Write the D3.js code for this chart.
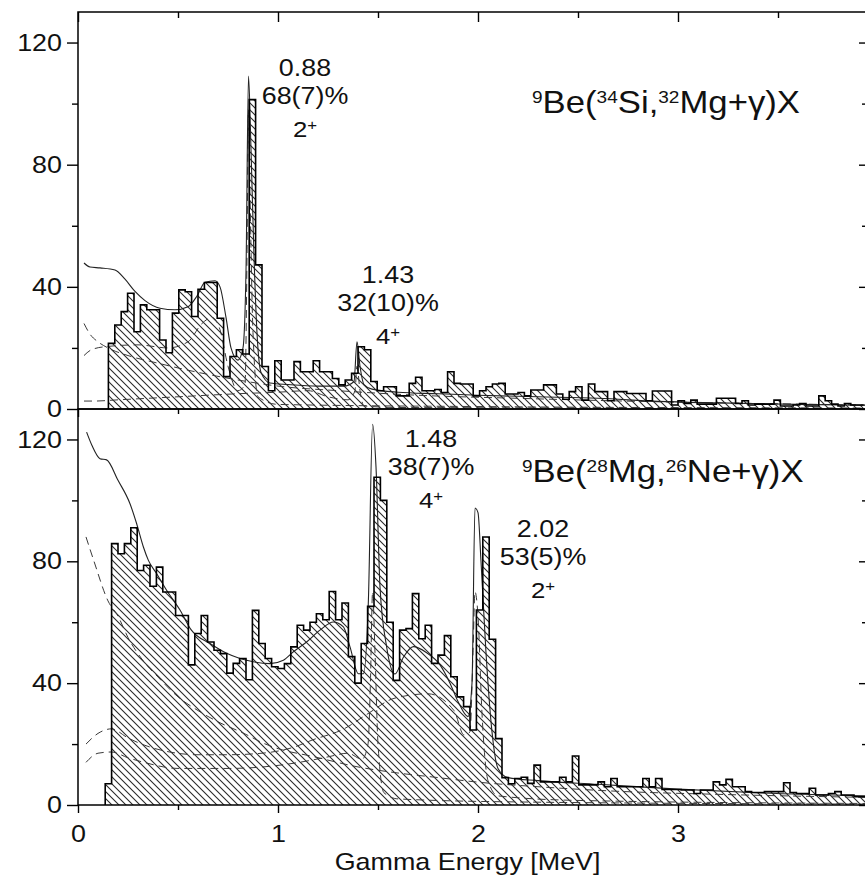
<!DOCTYPE html>
<html>
<head>
<meta charset="utf-8">
<script src="https://cdn.jsdelivr.net/npm/d3@7"></script>
<style>
  body { margin: 0; background: #fff; }
  text { font-family: Arial, "Liberation Sans", Helvetica, sans-serif; fill: #111; }
</style>
</head>
<body>
<svg id="canvas" width="865" height="879"></svg>
<script>
// ---- data ----
const binWidth = 0.032;          // MeV per histogram bin
const topStart = 0.152;          // first bin edge, 32Mg spectrum
const bottomStart = 0.136;       // first bin edge, 26Ne spectrum

const topCounts = [
  21.5, 27.5, 31.9, 37.9, 25.3, 34.1, 32.5, 32.5, 22.6, 18.4,
  31.4, 39, 38.4, 30.3, 39.2, 41.4, 41.4, 29.7, 10.6, 17.2,
  19.4, 18, 101.3, 47.2, 13.9, 6, 15.8, 9.5, 9.5, 15.5,
  12.2, 12.2, 15.8, 12.2, 12.2, 10, 7.9, 9.5, 11.7, 20.4,
  19.4, 9.0, 6.0, 7.3, 7.3, 4.3, 4.3, 8.4, 10.4, 6,
  6.0, 6.4, 5.4, 12.2, 8.4, 8.2, 8.2, 4.3, 6.0, 7.3,
  8.2, 8.4, 4.9, 4.9, 5.4, 4.3, 6.2, 6.2, 7.9, 7.9,
  4.9, 3.2, 5.7, 7.3, 2.9, 8.2, 5.7, 5.7, 2.7, 5.7,
  5.7, 5.1, 5.1, 5.1, 2.7, 5.9, 5.9, 5.9, 1.3, 2.7,
  1.8, 2.9, 1.6, 1.6, 1.6, 3.5, 3.5, 3.5, 1.8, 2.7,
  1.3, 1.6, 1.6, 1.6, 2.9, 1.0, 1.0, 1.3, 1.8, 1.0,
  1.0, 4.3, 2.7, 1.6, 1.0, 1.8, 1.3, 1.3
];

const bottomCounts = [
  7, 85.8, 82.5, 85.8, 91, 77, 78.7, 71.8, 78.1, 69.9,
  69.9, 62.2, 62.2, 46, 56.3, 62.2, 53.5, 50.8, 49.7, 43.3,
  46.5, 48.1, 41.1, 63.9, 53, 48.1, 45.4, 44.8, 46.4, 51.9,
  59, 57.4, 60, 62.8, 60.8, 70.1, 60.8, 66.3, 48.7, 40,
  53, 65.2, 107.6, 100, 60, 40.9, 57.4, 57.9, 69.4, 54.6,
  59, 46.5, 49.2, 55.6, 42.1, 35.5, 32.3, 24.6, 64, 88,
  54.4, 21.8, 9, 7, 8.7, 9.1, 7.1, 13.1, 7.6, 7.6,
  7.6, 9.1, 7.6, 16.1, 6.6, 6.6, 6.6, 7.6, 6.0, 8.7,
  6.0, 6.0, 6.0, 6.0, 8.7, 6.0, 8.7, 5.1, 5.1, 5.1,
  4.9, 4.9, 3.8, 4.9, 4.9, 7.6, 6.6, 8.4, 6.0, 6.0,
  4.4, 4.1, 4.1, 4.4, 4.4, 4.4, 7.3, 4.1, 3.8, 3.8,
  5.5, 3.3, 3.3, 3.8, 4.4, 3.3, 3.3, 2.7, 2.7
];

// fitted total (solid) and components (dashed): [energy MeV, counts]
const topFit = [
  [0.03, 47.8], [0.06, 46.5], [0.11, 46.2], [0.185, 45.5], [0.235, 42.5],
  [0.285, 38.5], [0.335, 35.5], [0.41, 33], [0.485, 32.5], [0.55, 33.5],
  [0.595, 37], [0.635, 41.5], [0.685, 42], [0.71, 40], [0.74, 30],
  [0.765, 20], [0.8, 16], [0.825, 20], [0.84, 45], [0.8525, 109],
  [0.865, 85], [0.88, 50], [0.895, 25], [0.915, 12], [0.96, 8.5],
  [1.05, 8], [1.2, 7.5], [1.33, 7.5], [1.38, 9], [1.395, 22],
  [1.41, 14], [1.43, 8], [1.47, 6.5], [1.6, 5.5], [1.8, 5],
  [2.0, 4.5], [2.3, 4], [2.6, 3.5], [2.9, 2.5], [3.2, 2],
  [3.6, 1.5], [3.95, 1.2]
];
const topBkg = [
  [0.03, 28], [0.06, 24.5], [0.1, 22], [0.15, 20], [0.25, 17.5],
  [0.4, 15], [0.6, 12], [0.8, 9.5], [1.0, 7.5], [1.3, 6],
  [1.7, 4.5], [2.2, 3.5], [2.8, 2.5], [3.4, 1.8], [3.95, 1.3]
];
const top088 = [
  [0.03, 17.5], [0.07, 19.5], [0.15, 20.5], [0.3, 21], [0.45, 20],
  [0.55, 22], [0.62, 28], [0.67, 30], [0.71, 26], [0.75, 14],
  [0.8, 6], [0.835, 8], [0.845, 50], [0.852, 98], [0.86, 70],
  [0.875, 25], [0.9, 4], [1.0, 1.5], [2.0, 0.8], [3.95, 0.3]
];
const top143 = [
  [0.03, 2.6], [0.08, 2.6], [0.2, 3], [0.5, 4], [0.8, 5],
  [1.0, 5.5], [1.15, 6], [1.25, 4], [1.35, 3], [1.385, 6],
  [1.395, 14], [1.41, 6], [1.43, 1], [1.6, 0.5], [3.95, 0.2]
];

const bottomFit = [
  [0.043, 122.4], [0.07, 118], [0.11, 113.7], [0.143, 113.3], [0.2, 106.6],
  [0.26, 98.9], [0.293, 92.4], [0.327, 84.7], [0.352, 80.3], [0.393, 76],
  [0.443, 70.5], [0.51, 64], [0.567, 57.4], [0.66, 53], [0.743, 49.8],
  [0.81, 48.1], [0.877, 47], [0.96, 46.4], [1.027, 47.5], [1.077, 50.3],
  [1.143, 53.5], [1.21, 57.4], [1.277, 60.1], [1.327, 58.5], [1.36, 51.9],
  [1.402, 43.1], [1.427, 43.1], [1.452, 67.2], [1.473, 125], [1.49, 111],
  [1.51, 71.6], [1.543, 52], [1.585, 43], [1.627, 48.5], [1.677, 52],
  [1.743, 50], [1.81, 46], [1.86, 40], [1.9, 34], [1.95, 29],
  [1.97, 40], [1.985, 97.5], [2.0, 96], [2.015, 80], [2.04, 50],
  [2.07, 24], [2.1, 12], [2.15, 9], [2.3, 8], [2.6, 6.8],
  [3.0, 5.2], [3.4, 4], [3.95, 3]
];
const bottomBkg = [
  [0.04, 88], [0.08, 80], [0.15, 67], [0.2, 62], [0.25, 55],
  [0.33, 47], [0.4, 42], [0.5, 35.5], [0.6, 31], [0.7, 27.3],
  [0.83, 23.5], [0.93, 20.2], [1.0, 18.5], [1.17, 16], [1.4, 12.5],
  [1.6, 10.5], [1.8, 9], [2.0, 7.5], [2.3, 6], [2.7, 4.5],
  [3.2, 3.5], [3.95, 2.5]
];
const bottom202 = [
  [0.04, 20], [0.1, 23.5], [0.167, 25], [0.25, 22], [0.33, 19.7],
  [0.45, 17.5], [0.6, 16.5], [0.75, 16.5], [0.92, 17], [1.08, 19],
  [1.17, 21.3], [1.33, 25], [1.45, 30], [1.58, 35], [1.75, 36.5],
  [1.88, 31], [1.93, 23], [1.96, 24], [1.975, 50], [1.985, 70],
  [2.0, 62], [2.02, 30], [2.05, 8], [2.1, 3], [2.5, 1.5], [3.95, 0.5]
];
const bottom148 = [
  [0.04, 14], [0.1, 17], [0.167, 17.4], [0.25, 15.5], [0.33, 14],
  [0.5, 12], [0.75, 12], [1.0, 13], [1.15, 14.5], [1.25, 15.8],
  [1.35, 17], [1.42, 15], [1.45, 20], [1.462, 40], [1.473, 70],
  [1.485, 50], [1.5, 20], [1.53, 4], [1.6, 2], [2.2, 1], [3.95, 0.3]
];

const yMajor = [0, 40, 80, 120];
const yMinor = [20, 60, 100];
const xMajor = [0, 1, 2, 3, 4];
const xMinor = [0.5, 1.5, 2.5, 3.5];

const topTitle = "^{9}Be(^{34}Si,^{32}Mg+γ)X";
const bottomTitle = "^{9}Be(^{28}Mg,^{26}Ne+γ)X";
const topNotes = [
  { e: 1.135, v: 109, lines: ["0.88", "68(7)%", "2^{+}"] },
  { e: 1.55, v: 41.3, lines: ["1.43", "32(10)%", "4^{+}"] }
];
const bottomNotes = [
  { e: 1.765, v: 117.5, lines: ["1.48", "38(7)%", "4^{+}"] },
  { e: 2.325, v: 88, lines: ["2.02", "53(5)%", "2^{+}"] }
];
const xLabel = "Gamma Energy [MeV]";

// ---- drawing ----
const svg = d3.select("#canvas");
const stretch = 1.12;   // the printed figure is a little wider than tall

const x = d3.scaleLinear().domain([0, 3.945]).range([78, 867]);

const defs = svg.append("defs");
defs.append("pattern")
    .attr("id", "hatch")
    .attr("patternUnits", "userSpaceOnUse")
    .attr("width", 7)
    .attr("height", 7)
  .append("path")
    .attr("d", "M-2,5 l4,4 M0,0 l7,7 M5,-2 l4,4")
    .attr("stroke", "#2a2a2a")
    .attr("stroke-width", 1.1);

function richText(sel, str, size, supSize, supRise) {
  // split "^{..}" superscripts into tspans
  const parts = str.split(/(\^\{[^}]*\})/).filter(s => s.length);
  let raised = false;
  parts.forEach(p => {
    if (p.startsWith("^{")) {
      sel.append("tspan")
        .attr("font-size", supSize)
        .attr("dy", raised ? 0 : -supRise)
        .text(p.slice(2, -1));
      raised = true;
    } else {
      sel.append("tspan")
        .attr("font-size", size)
        .attr("dy", raised ? supRise : 0)
        .text(p);
      raised = false;
    }
  });
}

const panels = [
  { top: 12, bottom: 409, counts: topCounts, start: topStart, fit: topFit,
    dashed: [topBkg, top088, top143], notes: topNotes, title: topTitle,
    titleAt: [2.27, 97] },
  { top: 409, bottom: 805, counts: bottomCounts, start: bottomStart, fit: bottomFit,
    dashed: [bottomBkg, bottom202, bottom148], notes: bottomNotes, title: bottomTitle,
    titleAt: [2.22, 106] }
];

panels.forEach((p, i) => {
  const y = d3.scaleLinear().domain([0, 130]).range([p.bottom, p.top]);
  const g = svg.append("g");

  defs.append("clipPath").attr("id", "clip" + i)
    .append("rect")
      .attr("x", x(0)).attr("y", p.top)
      .attr("width", x(3.945) - x(0)).attr("height", p.bottom - p.top);

  const plot = g.append("g").attr("clip-path", `url(#clip${i})`);

  // histogram as step data
  const steps = p.counts.map((c, k) => ({ e: p.start + k * binWidth, v: c }));
  steps.push({ e: p.start + p.counts.length * binWidth, v: p.counts[p.counts.length - 1] });

  plot.append("path")
    .datum(steps)
    .attr("fill", "url(#hatch)")
    .attr("d", d3.area().curve(d3.curveStepAfter)
      .x(d => x(d.e)).y0(y(0)).y1(d => y(d.v)));

  // fit components
  p.dashed.forEach(curve => {
    plot.append("path")
      .datum(curve)
      .attr("fill", "none")
      .attr("stroke", "#3a3a3a")
      .attr("stroke-width", 1)
      .attr("stroke-dasharray", "8,5")
      .attr("d", d3.line().curve(d3.curveMonotoneX)
        .x(d => x(d[0])).y(d => y(d[1])));
  });

  // total fit
  plot.append("path")
    .datum(p.fit)
    .attr("fill", "none")
    .attr("stroke", "#222")
    .attr("stroke-width", 1.1)
    .attr("d", d3.line().curve(d3.curveMonotoneX)
      .x(d => x(d[0])).y(d => y(d[1])));

  // histogram outline
  const outline = [{ e: p.start, v: 0 }].concat(steps);
  plot.append("path")
    .datum(outline)
    .attr("fill", "none")
    .attr("stroke", "#000")
    .attr("stroke-width", 1.6)
    .attr("d", d3.line().curve(d3.curveStepAfter)
      .x(d => x(d.e)).y(d => y(d.v)));

  // frame
  g.append("rect")
    .attr("x", x(0)).attr("y", p.top)
    .attr("width", x(3.945) - x(0)).attr("height", p.bottom - p.top)
    .attr("fill", "none").attr("stroke", "#000").attr("stroke-width", 1.5);

  // left axis, outward ticks
  const left = g.append("g").attr("transform", `translate(${x(0)},0)`);
  left.append("g").call(d3.axisLeft(y).tickValues(yMinor).tickSize(6).tickFormat(""));
  left.append("g").call(d3.axisLeft(y).tickValues(yMajor).tickSize(11).tickPadding(3.3));
  left.selectAll(".domain").remove();
  left.selectAll("line").attr("stroke-width", 1.4);
  left.selectAll("text")
    .attr("font-size", 24)
    .attr("font-family", null)
    .attr("transform", `scale(${stretch},1)`);

  // right axis, inward ticks
  const right = g.append("g").attr("transform", `translate(${x(3.945)},0)`);
  right.append("g").call(d3.axisRight(y).tickValues(yMinor).tickSize(-5).tickFormat(""));
  right.append("g").call(d3.axisRight(y).tickValues(yMajor).tickSize(-8).tickFormat(""));
  right.selectAll(".domain").remove();
  right.selectAll("line").attr("stroke-width", 1.4);

  // top edge ticks pointing down
  const topEdge = g.append("g").attr("transform", `translate(0,${p.top})`);
  const topLen = i === 0 ? [10, 6] : [8, 5];
  topEdge.append("g").call(d3.axisBottom(x).tickValues(xMinor).tickSize(topLen[1]).tickFormat(""));
  topEdge.append("g").call(d3.axisBottom(x).tickValues(xMajor).tickSize(topLen[0]).tickFormat(""));
  topEdge.selectAll(".domain").remove();
  topEdge.selectAll("line").attr("stroke-width", 1.4);

  // panel title and peak notes
  g.append("text")
    .attr("transform", `translate(${x(p.titleAt[0])},${y(p.titleAt[1])}) scale(${stretch},1)`)
    .call(t => richText(t, p.title, 31, 17, 10));

  p.notes.forEach(n => {
    const offs = [0, 28, 61];
    n.lines.forEach((line, j) => {
      g.append("text")
        .attr("text-anchor", "middle")
        .attr("transform", `translate(${x(n.e)},${y(n.v) + offs[j]}) scale(${stretch},1)`)
        .call(t => j < 2 ? richText(t, line, 24, 15, 7) : richText(t, line, 23, 15, 7));
    });
  });

  // bottom axis of the lower panel carries the energy labels
  if (i === 1) {
    const bottom = g.append("g").attr("transform", `translate(0,${p.bottom})`);
    bottom.append("g").call(d3.axisBottom(x).tickValues(xMinor).tickSize(5).tickFormat(""));
    bottom.append("g").call(d3.axisBottom(x).tickValues(xMajor).tickSize(8).tickPadding(12)
      .tickFormat(d3.format("d")));
    bottom.selectAll(".domain").remove();
    bottom.selectAll("line").attr("stroke-width", 1.4);
    bottom.selectAll("text")
      .attr("font-size", 24)
      .attr("font-family", null)
      .attr("transform", `scale(${stretch},1)`);
  }
});

svg.append("text")
  .attr("text-anchor", "middle")
  .attr("font-size", 24)
  .attr("transform", `translate(${x(1.948)},870) scale(${stretch},1)`)
  .text(xLabel);
</script>
</body>
</html>
